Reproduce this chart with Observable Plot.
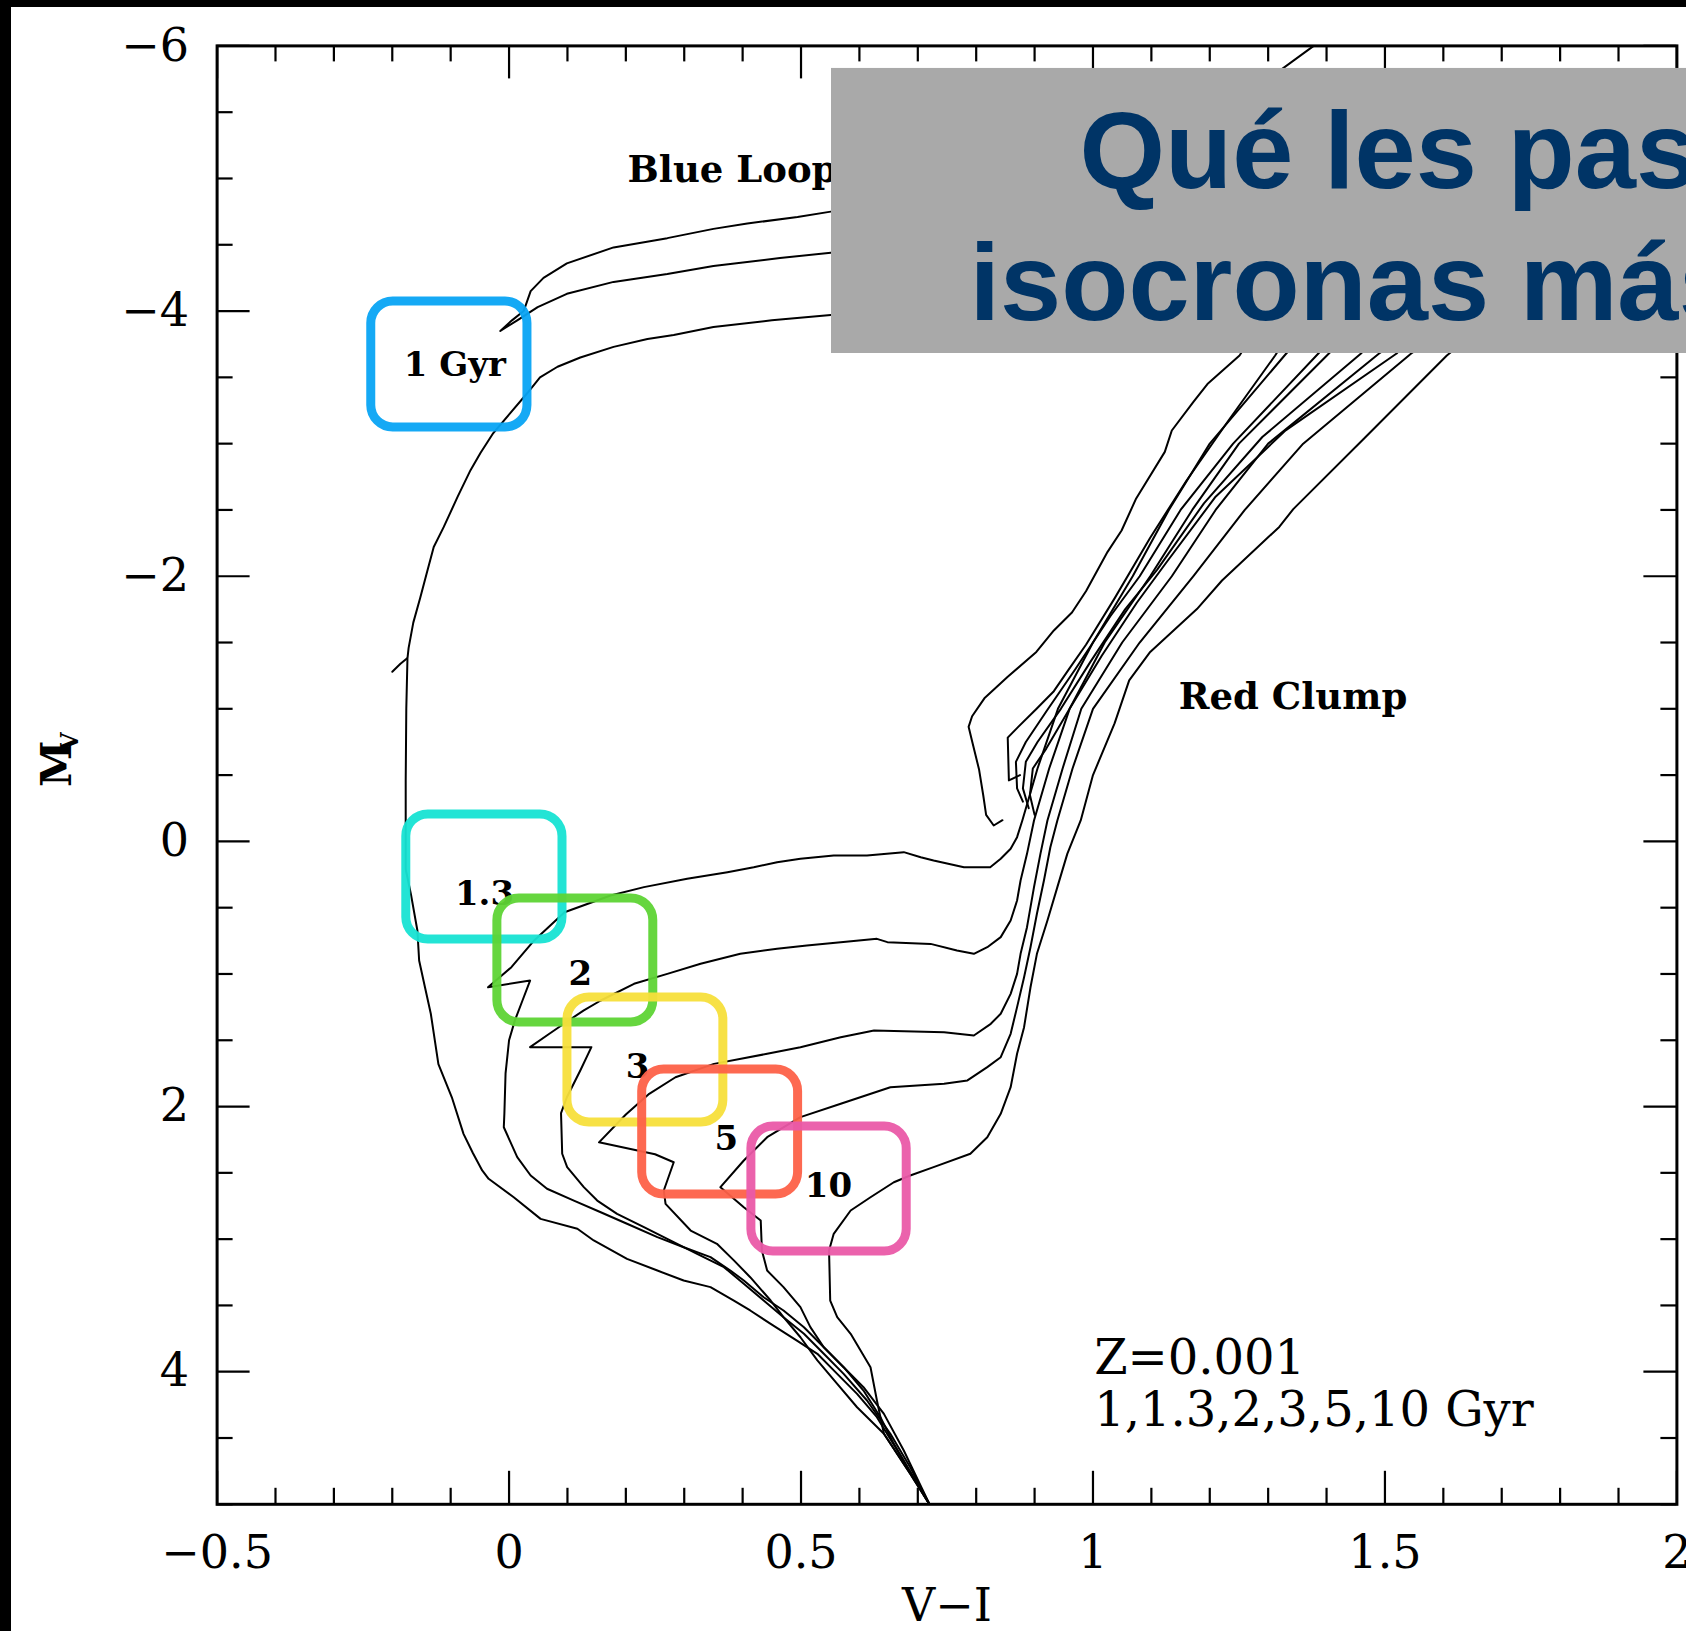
<!DOCTYPE html>
<html><head><meta charset="utf-8">
<script src="https://cdn.jsdelivr.net/npm/d3@7"></script>
<script src="https://cdn.jsdelivr.net/npm/@observablehq/plot@0.6"></script>
<style>
html,body{margin:0;padding:0;background:#000;overflow:hidden;width:1686px;height:1631px;}
#chart{position:absolute;left:11px;top:7px;width:1675px;height:1624px;background:#fff;overflow:hidden;}
#chart svg{overflow:hidden;display:block;}
</style></head><body><div id="chart"></div>
<script>
// ---------- tick values & labels ----------
const xMajor = [-0.5, 0, 0.5, 1, 1.5, 2];
const xTickLabels = ["−0.5", "0", "0.5", "1", "1.5", "2"];
const xMinor = d3.range(-5, 21).map(i => i / 10).filter(v => Math.abs(v * 2 - Math.round(v * 2)) > 1e-9);
const yMajor = [-6, -4, -2, 0, 2, 4];
const yTickLabels = ["−6", "−4", "−2", "0", "2", "4"];
const yMinor = d3.range(-12, 11).map(i => i / 2).filter(v => !yMajor.includes(v));

// ---------- isochrones (V−I, M_V) ----------
const iso1 = [[0.72,5.0],[0.699,4.845],[0.665,4.594],[0.63,4.343],[0.596,4.167],[0.562,4.016],[0.528,3.865],[0.493,3.765],[0.448,3.639],[0.413,3.538],[0.385,3.463],[0.345,3.362],[0.299,3.312],[0.254,3.237],[0.202,3.149],[0.145,3.01],[0.117,2.922],[0.054,2.847],[0.008,2.684],[-0.035,2.545],[-0.046,2.482],[-0.062,2.35],[-0.078,2.206],[-0.098,1.93],[-0.121,1.68],[-0.134,1.3],[-0.144,1.1],[-0.154,0.898],[-0.157,0.672],[-0.168,0.4],[-0.177,0.21],[-0.177,-0.46],[-0.176,-1.0],[-0.174,-1.38],[-0.172,-1.46],[-0.164,-1.65],[-0.152,-1.84],[-0.14,-2.04],[-0.129,-2.22],[-0.112,-2.37],[-0.088,-2.6],[-0.066,-2.8],[-0.049,-2.93],[-0.027,-3.08],[0.002,-3.23],[0.031,-3.38],[0.053,-3.5],[0.083,-3.58],[0.122,-3.65],[0.179,-3.73],[0.237,-3.79],[0.282,-3.82],[0.35,-3.88],[0.45,-3.93],[0.551,-3.97],[0.8,-4.05],[1.0,-4.3],[1.15,-5.0],[1.3,-5.75],[1.378,-6.0],[1.41,-6.1]];
const iso1Hook = [[-0.175,-1.38],[-0.186,-1.34],[-0.2,-1.28]];
const iso1Loop = [[0.9,-4.5],[0.7,-4.47],[0.551,-4.44],[0.464,-4.4],[0.35,-4.34],[0.271,-4.28],[0.179,-4.22],[0.099,-4.13],[0.049,-4.03],[0.014,-3.93],[-0.015,-3.85],[0.005,-3.93],[0.025,-4.0],[0.037,-4.15],[0.059,-4.25],[0.099,-4.36],[0.179,-4.48],[0.271,-4.55],[0.35,-4.62],[0.408,-4.66],[0.494,-4.71],[0.551,-4.75],[0.8,-4.85],[1.0,-5.0]];

const iso13 = [[0.72,5.0],[0.676,4.594],[0.642,4.318],[0.607,4.117],[0.573,3.966],[0.539,3.815],[0.505,3.664],[0.47,3.538],[0.436,3.438],[0.402,3.312],[0.379,3.237],[0.345,3.136],[0.299,3.061],[0.254,2.985],[0.202,2.884],[0.157,2.797],[0.111,2.709],[0.065,2.62],[0.037,2.52],[0.014,2.382],[-0.009,2.156],[-0.008,2.05],[-0.006,1.75],[0.0,1.5],[0.01,1.35],[0.023,1.2],[0.036,1.05],[-0.036,1.1],[0.004,0.949],[0.043,0.747],[0.095,0.534],[0.174,0.408],[0.231,0.345],[0.305,0.282],[0.374,0.232],[0.419,0.195],[0.459,0.157],[0.499,0.131],[0.556,0.106],[0.613,0.106],[0.676,0.081],[0.705,0.119],[0.727,0.144],[0.779,0.195],[0.824,0.195],[0.842,0.131],[0.859,0.056],[0.87,-0.032],[0.879,-0.158],[0.905,-0.55],[0.94,-1.0],[1.0,-1.5],[1.068,-2.0],[1.13,-2.5],[1.2,-3.0],[1.331,-3.68],[1.45,-4.3]];
const agb13 = [[0.845,-0.16],[0.83,-0.12],[0.817,-0.2],[0.812,-0.35],[0.805,-0.54],[0.793,-0.756],[0.787,-0.864],[0.793,-0.944],[0.814,-1.079],[0.854,-1.241],[0.903,-1.429],[0.933,-1.591],[0.964,-1.726],[0.988,-1.887],[1.025,-2.184],[1.049,-2.345],[1.074,-2.587],[1.123,-2.938],[1.135,-3.099],[1.172,-3.315],[1.196,-3.449],[1.251,-3.665],[1.3,-4.0]];

const iso2 = [[0.72,5.0],[0.687,4.72],[0.653,4.468],[0.613,4.217],[0.573,4.016],[0.539,3.865],[0.505,3.714],[0.47,3.589],[0.436,3.463],[0.402,3.337],[0.368,3.211],[0.322,3.111],[0.276,3.01],[0.231,2.91],[0.185,2.809],[0.151,2.709],[0.128,2.608],[0.0995,2.457],[0.091,2.356],[0.089,2.05],[0.099,1.93],[0.122,1.728],[0.141,1.552],[0.036,1.552],[0.069,1.451],[0.102,1.351],[0.128,1.275],[0.157,1.2],[0.214,1.074],[0.271,0.999],[0.328,0.923],[0.396,0.848],[0.459,0.81],[0.51,0.785],[0.568,0.76],[0.63,0.735],[0.648,0.76],[0.722,0.773],[0.767,0.823],[0.796,0.848],[0.819,0.798],[0.842,0.722],[0.859,0.597],[0.87,0.446],[0.876,0.295],[0.887,0.094],[0.899,-0.158],[0.925,-0.55],[0.96,-1.0],[1.02,-1.5],[1.098,-2.0],[1.17,-2.5],[1.25,-3.0],[1.404,-3.68],[1.5,-4.1]];
const agb2 = [[0.875,-0.5],[0.856,-0.46],[0.854,-0.783],[0.872,-0.864],[0.903,-0.998],[0.933,-1.133],[0.958,-1.294],[0.988,-1.483],[1.037,-1.833],[1.098,-2.29],[1.16,-2.72],[1.233,-3.18],[1.312,-3.665],[1.36,-4.0]];

const iso3 = [[0.72,5.0],[0.687,4.77],[0.642,4.468],[0.596,4.268],[0.562,4.091],[0.528,3.915],[0.499,3.74],[0.47,3.589],[0.448,3.463],[0.413,3.287],[0.385,3.16],[0.356,3.035],[0.311,2.935],[0.268,2.734],[0.265,2.633],[0.282,2.42],[0.25,2.36],[0.154,2.27],[0.2,2.06],[0.24,1.904],[0.285,1.779],[0.351,1.678],[0.442,1.602],[0.499,1.552],[0.568,1.477],[0.625,1.426],[0.745,1.439],[0.796,1.464],[0.825,1.376],[0.842,1.3],[0.859,1.15],[0.87,0.999],[0.876,0.848],[0.887,0.647],[0.899,0.345],[0.91,0.094],[0.922,-0.158],[0.948,-0.55],[0.98,-1.0],[1.05,-1.5],[1.135,-2.0],[1.21,-2.5],[1.3,-3.0],[1.49,-3.68],[1.6,-4.0]];
const agb3 = [[0.88,-0.3],[0.87,-0.4],[0.868,-0.6],[0.885,-0.75],[0.92,-0.98],[0.97,-1.3],[1.03,-1.7],[1.08,-2.0],[1.15,-2.5],[1.24,-3.0],[1.386,-3.68],[1.45,-4.0]];

const iso5 = [[0.72,5.0],[0.687,4.77],[0.642,4.468],[0.636,4.343],[0.607,4.142],[0.573,3.966],[0.539,3.815],[0.516,3.664],[0.499,3.513],[0.47,3.362],[0.442,3.237],[0.433,3.086],[0.431,2.859],[0.402,2.759],[0.362,2.608],[0.402,2.407],[0.442,2.231],[0.499,2.08],[0.568,1.979],[0.653,1.854],[0.745,1.828],[0.785,1.803],[0.819,1.703],[0.842,1.628],[0.859,1.451],[0.87,1.25],[0.882,1.024],[0.893,0.798],[0.904,0.546],[0.916,0.295],[0.927,0.044],[0.939,-0.158],[0.965,-0.55],[1.0,-1.0],[1.08,-1.5],[1.172,-2.0],[1.26,-2.5],[1.36,-3.0],[1.545,-3.68],[1.65,-4.0]];
const agb5 = [[0.89,-0.25],[0.88,-0.4],[0.885,-0.6],[0.905,-0.75],[0.945,-1.0],[0.995,-1.35],[1.055,-1.75],[1.11,-2.05],[1.19,-2.55],[1.29,-3.05],[1.459,-3.68],[1.52,-4.0]];

const iso10 = [[0.72,5.0],[0.659,4.544],[0.636,4.343],[0.63,4.217],[0.619,3.966],[0.585,3.714],[0.562,3.589],[0.55,3.463],[0.548,3.086],[0.556,2.96],[0.585,2.784],[0.619,2.684],[0.659,2.571],[0.687,2.52],[0.727,2.457],[0.79,2.356],[0.819,2.231],[0.842,2.055],[0.859,1.854],[0.87,1.602],[0.882,1.401],[0.893,1.1],[0.904,0.848],[0.922,0.597],[0.939,0.345],[0.956,0.094],[0.979,-0.158],[1.0,-0.5],[1.037,-0.89],[1.062,-1.214],[1.098,-1.429],[1.178,-1.752],[1.221,-1.968],[1.319,-2.372],[1.343,-2.506],[1.466,-3.046],[1.606,-3.665],[1.7,-4.0]];
const agb10 = [[0.9,-0.2],[0.892,-0.35],[0.897,-0.55],[0.92,-0.7],[0.96,-1.0],[1.015,-1.4],[1.075,-1.8],[1.125,-2.1],[1.21,-2.6],[1.33,-3.1],[1.52,-3.68],[1.58,-4.0]];

// ---------- annotations ----------
const ageLabels = ["1 Gyr", "1.3", "2", "3", "5", "10"];
const ageLabelX = [-0.093, -0.042, 0.122, 0.22, 0.372, 0.547];
const ageLabelY = [-3.59, 0.40, 1.0, 1.70, 2.248, 2.6];
const boxColors = ["#08a4f4", "#17e3d3", "#5ed435", "#f7df3b", "#fd6148", "#ea5aa8"];
const boxX1 = [-0.236, -0.176, -0.02, 0.1, 0.228, 0.415];
const boxX2 = [0.0315, 0.0915, 0.247, 0.367, 0.495, 0.681];
const boxY1 = [-4.072, -0.203, 0.43, 1.178, 1.721, 2.151];
const boxY2 = [-3.122, 0.74, 1.366, 2.12, 2.664, 3.094];
const phaseLabels = ["Blue Loop", "Red Clump"];
const phaseX = [0.203, 1.147];
const phaseY = [-4.97, -0.998];
const noteLines = ["Z=0.001", "1,1.3,2,3,5,10 Gyr"];
const noteX = 1.002;
const noteY = [4.02, 4.406];
const titleLines = ["Qué les pasa a las", "isocronas más viejas?"];
const titleX = 1.7938;
const titleY = [-4.925, -3.929];
const panel = {x1: 0.5522, x2: 2.4, y1: -5.83, y2: -3.68};

// ---------- build table ----------
const series = [
  ["1-main", iso1], ["1-hook", iso1Hook], ["1-loop", iso1Loop],
  ["1.3-main", iso13], ["1.3-agb", agb13],
  ["2-main", iso2], ["2-agb", agb2],
  ["3-main", iso3], ["3-agb", agb3],
  ["5-main", iso5], ["5-agb", agb5],
  ["10-main", iso10], ["10-agb", agb10]
];
const rows = series.flatMap(([key, pts]) => pts.map(([v, M]) => ({key, v, M})));

// ---------- layout ----------
const W = 1675, H = 1624, mL = 205.6, mR = 9.6, mT = 38.4, mB = 127.2;
const xDom = [-0.5, 2], yDom = [5, -6];
const pxX = (W - mL - mR) / (xDom[1] - xDom[0]);
const pxY = (H - mT - mB) / (yDom[0] - yDom[1]);
const majV = 33 / pxY, minV = 16 / pxY, majH = 33 / pxX, minH = 16 / pxX;

const serif = "DejaVu Serif";
const tickStyle = {stroke: "black", strokeWidth: 2.2};

const boxMarks = boxColors.map((c, i) => Plot.rect([i], {
  x1: () => boxX1[i], x2: () => boxX2[i], y1: () => boxY1[i], y2: () => boxY2[i],
  stroke: c, strokeWidth: 9, fill: "none", rx: 22, strokeOpacity: 0.95
}));

const chart = Plot.plot({
  width: W, height: H,
  marginLeft: mL, marginRight: mR, marginTop: mT, marginBottom: mB,
  x: {domain: xDom, axis: null},
  y: {domain: yDom, axis: null},
  style: {fontFamily: serif, background: "white", overflow: "hidden"},
  marks: [
    Plot.line(rows, {x: "v", y: "M", z: "key", stroke: "black", strokeWidth: 2, clip: true}),
    // ticks (inward) on all four sides
    Plot.ruleX(xMajor, {x: d => d, y1: yDom[0], y2: yDom[0] - majV, ...tickStyle}),
    Plot.ruleX(xMinor, {x: d => d, y1: yDom[0], y2: yDom[0] - minV, ...tickStyle}),
    Plot.ruleX(xMajor, {x: d => d, y1: yDom[1], y2: yDom[1] + majV, ...tickStyle}),
    Plot.ruleX(xMinor, {x: d => d, y1: yDom[1], y2: yDom[1] + minV, ...tickStyle}),
    Plot.ruleY(yMajor, {y: d => d, x1: xDom[0], x2: xDom[0] + majH, ...tickStyle}),
    Plot.ruleY(yMinor, {y: d => d, x1: xDom[0], x2: xDom[0] + minH, ...tickStyle}),
    Plot.ruleY(yMajor, {y: d => d, x1: xDom[1], x2: xDom[1] - majH, ...tickStyle}),
    Plot.ruleY(yMinor, {y: d => d, x1: xDom[1], x2: xDom[1] - minH, ...tickStyle}),
    Plot.frame({stroke: "black", strokeWidth: 3}),
    // tick labels
    Plot.text(xMajor, {x: d => d, y: yDom[0], text: (d, i) => xTickLabels[i], dy: 64, lineAnchor: "bottom", fontSize: 46, fill: "black"}),
    Plot.text(yMajor, {x: xDom[0], y: d => d, text: (d, i) => yTickLabels[i], textAnchor: "end", dx: -28, lineAnchor: "middle", fontSize: 46, fill: "black"}),
    // axis titles
    Plot.text(["V−I"], {frameAnchor: "bottom", dy: 117, lineAnchor: "bottom", fontSize: 46, fill: "black"}),
    Plot.text(["M"], {frameAnchor: "left", dx: -160, dy: 12, rotate: -90, fontSize: 42, fontWeight: "bold", fill: "black"}),
    Plot.text(["V"], {frameAnchor: "left", dx: -147, dy: -24, rotate: -90, fontSize: 24, fontWeight: "bold", fill: "black"}),
    // annotations
    Plot.text(ageLabels, {x: (d, i) => ageLabelX[i], y: (d, i) => ageLabelY[i], text: d => d, fontSize: 34, fontWeight: "bold", fill: "black"}),
    Plot.text(phaseLabels, {x: (d, i) => phaseX[i], y: (d, i) => phaseY[i], text: d => d, textAnchor: "start", lineAnchor: "bottom", fontSize: 37, fontWeight: "bold", fill: "black"}),
    Plot.text(noteLines, {x: noteX, y: (d, i) => noteY[i], text: d => d, textAnchor: "start", lineAnchor: "bottom", fontSize: 48, fill: "black"}),
    ...boxMarks,
    // grey title panel overlay
    Plot.rect([panel], {x1: "x1", x2: "x2", y1: "y1", y2: "y2", fill: "#a9a9a9"}),
    Plot.text(titleLines, {x: titleX, y: (d, i) => titleY[i], text: d => d, textAnchor: "middle", lineAnchor: "bottom", fontSize: 110, fontWeight: "bold", fontFamily: "Liberation Sans", fill: "#003466"})
  ]
});
document.getElementById("chart").appendChild(chart);
</script></body></html>
